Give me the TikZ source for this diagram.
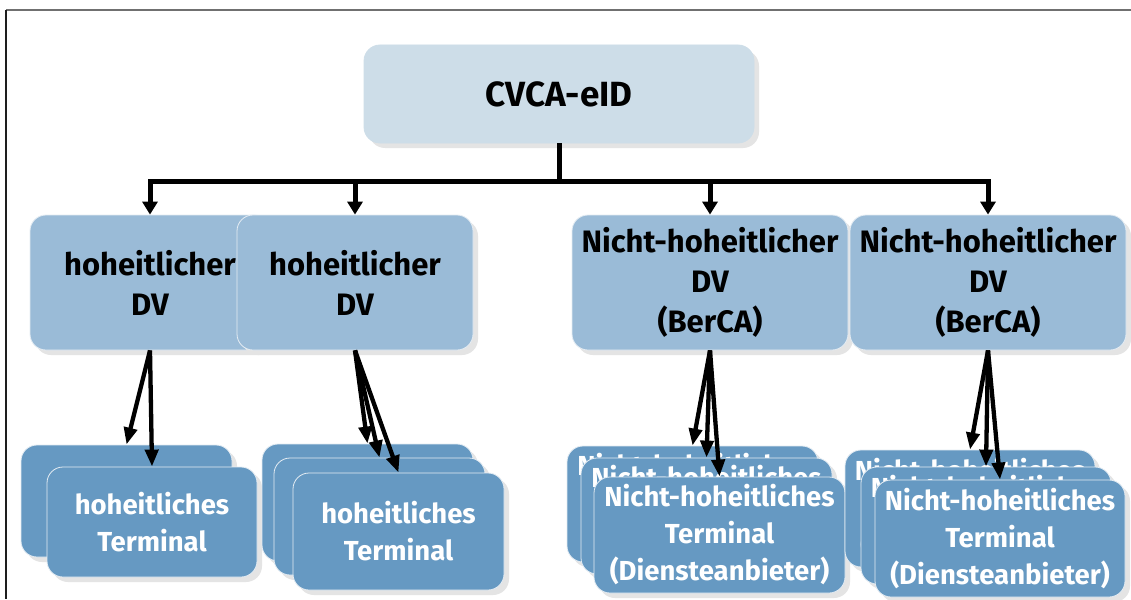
\documentclass[tikz,border=0pt]{standalone}
\usepackage{fontspec}
\setmainfont{Fira Sans}
\usetikzlibrary{shadows,arrows.meta}
\definecolor{cvcafill}{RGB}{205,221,232}
\definecolor{dvfill}{RGB}{154,187,215}
\definecolor{termfill}{RGB}{102,153,194}
\definecolor{edgecol}{RGB}{228,236,243}
\definecolor{shadowcol}{RGB}{228,228,228}
\definecolor{frametop}{RGB}{112,112,112}
\definecolor{frameleft}{RGB}{30,30,30}
\begin{document}
\begin{tikzpicture}[x=1pt,y=-1pt,
  box/.style={rectangle, rounded corners=16pt, draw=edgecol, line width=0.8pt,
    inner sep=0pt, align=center,
    general shadow={fill=shadowcol, shadow xshift=5pt, shadow yshift=-5pt}},
  cvcabox/.style={box, fill=cvcafill, draw=cvcafill, font=\bfseries\fontsize{35}{40}\selectfont},
  dvbox/.style={box, fill=dvfill, minimum height=135pt, font=\bfseries\fontsize{31}{40}\selectfont},
  termbox/.style={box, fill=termfill, text=white, font=\bfseries\fontsize{27.5}{37}\selectfont},
  busline/.style={line width=5pt, draw=black},
  busarrow/.style={line width=5pt, draw=black, -{Triangle[length=13pt,width=15pt]}},
  termarrow/.style={line width=4.3pt, draw=black, -{Triangle[length=17pt,width=13pt]}}
]
\useasboundingbox (0,0) rectangle (1131,599);
\fill[white] (0,0) rectangle (1131,599);
\draw[frametop, line width=1.3pt] (6,10) -- (1131,10);
\draw[frameleft, line width=1.3pt] (6,10) -- (6,599);

% root
\node[cvcabox, minimum width=390pt, minimum height=98pt] (cvca) at (559,94) {CVCA-eID};

% DV level
\node[dvbox, minimum width=240pt] (dv1) at (150,282.5) {hoheitlicher\\DV};
\node[dvbox, minimum width=236pt] (dv2) at (355,282.5) {hoheitlicher\\DV};
\node[dvbox, minimum width=276pt] (dv3) at (710,282.5) {Nicht-hoheitlicher\\DV\\(BerCA)};
\node[dvbox, minimum width=276pt] (dv4) at (988,282.5) {Nicht-hoheitlicher\\DV\\(BerCA)};

% terminal stack 1
\node[termbox, minimum width=211pt, minimum height=112pt] (t1a) at (126.5,501) {};
\node[termbox, minimum width=210pt, minimum height=110pt] (t1b) at (152,522) {hoheitliches\\Terminal};

% terminal stack 2
\node[termbox, minimum width=211pt, minimum height=117pt] (t2a) at (367.5,502.5) {};
\node[termbox, minimum width=211pt, minimum height=117pt] (t2b) at (379.5,516.5) {};
\node[termbox, minimum width=211pt, minimum height=117pt] (t2c) at (398.5,531.5) {hoheitliches\\Terminal};

% terminal stack 3
\node[termbox, minimum width=251pt, minimum height=116pt] (t3a) at (692.5,504) {Nicht-hoheitliches\\Terminal\\(Diensteanbieter)};
\node[termbox, minimum width=251pt, minimum height=116pt] (t3b) at (706.5,516) {Nicht-hoheitliches\\Terminal\\(Diensteanbieter)};
\node[termbox, minimum width=251pt, minimum height=116pt] (t3c) at (719.5,535) {Nicht-hoheitliches\\Terminal\\(Diensteanbieter)};

% terminal stack 4
\node[termbox, minimum width=250pt, minimum height=117pt] (t4a) at (970,508.5) {Nicht-hoheitliches\\Terminal\\(Diensteanbieter)};
\node[termbox, minimum width=250pt, minimum height=117pt] (t4b) at (986,525.5) {Nicht-hoheitliches\\Terminal\\(Diensteanbieter)};
\node[termbox, minimum width=250pt, minimum height=117pt] (t4c) at (1000,538.5) {Nicht-hoheitliches\\Terminal\\(Diensteanbieter)};

% bus from root
\draw[busline] (cvca.south) -- ++(0,38) coordinate (bus);
\draw[busarrow] (bus) -| (dv1.north);
\draw[busarrow] (bus) -| (dv2.north);
\draw[busarrow] (bus) -| (dv3.north);
\draw[busarrow] (bus) -| (dv4.north);

% DV to terminals
\draw[termarrow] (dv1.south) -- (t1a.north);
\draw[termarrow] (dv1.south) -- (t1b.north);
\draw[termarrow] (dv2.south) -- (t2a.north);
\draw[termarrow] (dv2.south) -- (t2b.north);
\draw[termarrow] (dv2.south) -- (t2c.north);
\draw[termarrow] (dv3.south) -- (t3a.north);
\draw[termarrow] (dv3.south) -- (t3b.north);
\draw[termarrow] (dv3.south) -- (t3c.north);
\draw[termarrow] (dv4.south) -- (t4a.north);
\draw[termarrow] (dv4.south) -- (t4b.north);
\draw[termarrow] (dv4.south) -- (t4c.north);
\end{tikzpicture}
\end{document}
